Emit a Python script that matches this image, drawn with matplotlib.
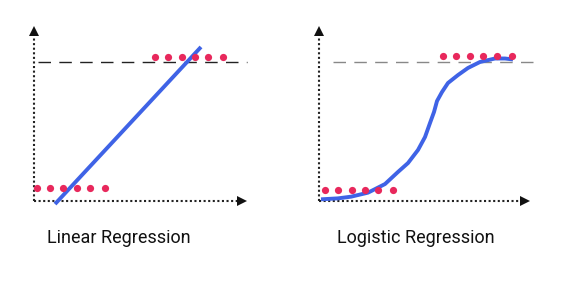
import matplotlib
matplotlib.use("Agg")
import matplotlib.pyplot as plt

# ---- data (x in axis units, y where 1.0 = dashed reference line) ----
lin_top_x = [12.1, 13.4, 14.8, 16.1, 17.4, 18.9]
lin_top_y = [1.036] * 6
lin_bot_x = [0.3, 1.6, 2.9, 4.3, 5.6, 7.1]
lin_bot_y = [0.094] * 6
lin_fit_x = [2.1, 16.7]
lin_fit_y = [-0.022, 1.108]

log_top_x = [12.4, 13.7, 15.1, 16.4, 17.8, 19.3]
log_top_y = [1.043] * 6
log_bot_x = [0.6, 1.9, 3.3, 4.6, 5.9, 7.4]
log_bot_y = [0.079] * 6
log_fit_x = [0.2, 1.9, 3.2, 4.9, 6.6, 7.9, 8.9, 9.9, 10.6, 11.1, 11.5, 11.8,
             12.3, 12.9, 13.9, 14.9, 16.1, 17.6, 18.6, 19.4]
log_fit_y = [0.012, 0.019, 0.031, 0.060, 0.122, 0.209, 0.273, 0.367, 0.460,
             0.561, 0.640, 0.719, 0.784, 0.849, 0.906, 0.957, 1.000, 1.025,
             1.025, 1.018]

titles = ["Linear Regression", "Logistic Regression"]

BLUE = "#3f63e6"
PINK = "#e8285c"

W, H = 580, 289
fig = plt.figure(figsize=(W / 100, H / 100), dpi=100)
fig.patch.set_facecolor("white")


def panel(left_px, width_px, xmax, top_x, top_y, bot_x, bot_y, fx, fy,
          dash_x, dash_color, title, title_x):
    ax = fig.add_axes([left_px / W, (H - 201) / H, width_px / W, 176 / H])
    ax.set_xlim(0, xmax)
    ax.set_ylim(0, 1.266)
    ax.axis("off")
    # dotted axes
    ax.plot([0, xmax - 0.4], [0, 0], color="#222222", lw=1.5,
            ls=(0, (1, 1.2)), clip_on=False, solid_capstyle="butt")
    ax.plot([0, 0], [0, 1.266 - 0.03], color="#222222", lw=1.5,
            ls=(0, (1, 1.2)), clip_on=False)
    ax.plot([xmax - 0.35], [0], marker=">", color="#111111", ms=6.5,
            clip_on=False, markeredgewidth=0)
    ax.plot([0], [1.266 - 0.04], marker="^", color="#111111", ms=6.5,
            clip_on=False, markeredgewidth=0)
    # dashed reference line
    ax.plot(dash_x, [1.0, 1.0], color=dash_color, lw=1.0,
            ls=(0, (9, 6)), clip_on=False)
    # fit
    ax.plot(fx, fy, color=BLUE, lw=2.8, clip_on=False,
            solid_capstyle="butt", solid_joinstyle="round", zorder=3)
    # points
    ax.plot(top_x, top_y, "o", color=PINK, ms=5.2, mew=0, clip_on=False, zorder=4)
    ax.plot(bot_x, bot_y, "o", color=PINK, ms=5.2, mew=0, clip_on=False, zorder=4)
    fig.text(title_x / W, 1 - 238 / H, title, ha="left", va="center",
             fontsize=13, family="Roboto", color="#111111")


panel(34, 212, 21.2, lin_top_x, lin_top_y, lin_bot_x, lin_bot_y,
      lin_fit_x, lin_fit_y, [0.4, 21.3], "#222222", titles[0], 47)
panel(319, 209, 20.9, log_top_x, log_top_y, log_bot_x, log_bot_y,
      log_fit_x, log_fit_y, [1.4, 21.9], "#888888", titles[1], 337)

fig.savefig("out.png", dpi=100, facecolor="white")
